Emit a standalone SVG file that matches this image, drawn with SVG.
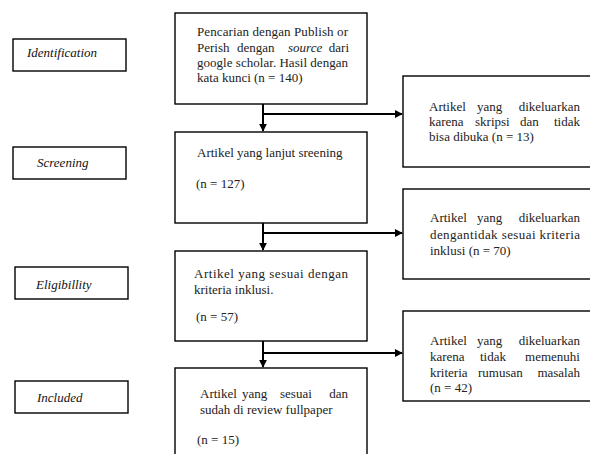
<svg xmlns="http://www.w3.org/2000/svg" width="590" height="454" viewBox="0 0 590 454">
<style>
rect{fill:#fff;stroke:#000;stroke-width:1.4}
.lab{font-family:"Liberation Serif",serif;font-style:italic;font-size:13px;fill:#111}
.t{font-family:"Liberation Serif",serif;font-size:13px;fill:#222}
.e{text-anchor:end}
.c{stroke:#000;stroke-width:2;fill:none}
</style>
<defs>
<marker id="ah" viewBox="0 0 10 10" refX="9" refY="5" markerWidth="4" markerHeight="4" orient="auto" markerUnits="strokeWidth">
<path d="M0,0 L10,5 L0,10 z" fill="#000"/>
</marker>
</defs>
<rect width="590" height="454" style="fill:#fff;stroke:none"/>
<g id="lab-identification"><rect x="13" y="39" width="113" height="32"/><text class="lab" x="27" y="57">Identification</text></g>
<g id="lab-screening"><rect x="13" y="147" width="113" height="32"/><text class="lab" x="37" y="167">Screening</text></g>
<g id="lab-eligibility"><rect x="15" y="267" width="113" height="32"/><text class="lab" x="36" y="289">Eligibillity</text></g>
<g id="lab-included"><rect x="15" y="381" width="113" height="32"/><text class="lab" x="37" y="402">Included</text></g>

<g id="box1"><rect x="175" y="13" width="192" height="91"/>
<text class="t" x="197" y="36" textLength="151" lengthAdjust="spacing">Pencarian dengan Publish or</text>
<text class="t" y="52"><tspan x="197">Perish</tspan><tspan x="237">dengan</tspan><tspan x="288" font-style="italic">source</tspan></text>
<text class="t e" x="349" y="52">dari</text>
<text class="t" x="197" y="67" textLength="151" lengthAdjust="spacing">google scholar. Hasil dengan</text>
<text class="t" x="197" y="82">kata kunci (n = 140)</text>
</g>
<g id="box2"><rect x="175" y="132" width="192" height="91"/>
<text class="t" x="197" y="157">Artikel yang lanjut sreening</text>
<text class="t" x="196" y="188">(n = 127)</text>
</g>
<g id="box3"><rect x="175" y="251" width="192" height="90"/>
<text class="t" x="194" y="278" textLength="154" lengthAdjust="spacing">Artikel yang sesuai dengan</text>
<text class="t" x="194" y="294">kriteria inklusi.</text>
<text class="t" x="196" y="321">(n = 57)</text>
</g>
<g id="box4"><rect x="175" y="368" width="192" height="95"/>
<text class="t" y="398"><tspan x="200">Artikel</tspan><tspan x="242">yang</tspan><tspan x="280">sesuai</tspan></text>
<text class="t e" x="348" y="398">dan</text>
<text class="t" x="200" y="414">sudah di review fullpaper</text>
<text class="t" x="197" y="444">(n = 15)</text>
</g>

<g id="exc1"><rect x="403" y="76" width="200" height="91"/>
<text class="t" y="111"><tspan x="429">Artikel</tspan><tspan x="477">yang</tspan></text>
<text class="t e" x="580" y="111">dikeluarkan</text>
<text class="t" y="126"><tspan x="429">karena</tspan><tspan x="475">skripsi</tspan><tspan x="520">dan</tspan></text>
<text class="t e" x="580" y="126">tidak</text>
<text class="t" x="429" y="141">bisa dibuka (n = 13)</text>
</g>
<g id="exc2"><rect x="403" y="189" width="200" height="90"/>
<text class="t" y="222"><tspan x="430">Artikel</tspan><tspan x="477">yang</tspan></text>
<text class="t e" x="580" y="222">dikeluarkan</text>
<text class="t" x="430" y="239" textLength="150" lengthAdjust="spacing">dengantidak sesuai kriteria</text>
<text class="t" x="430" y="255">inklusi (n = 70)</text>
</g>
<g id="exc3"><rect x="403" y="311" width="200" height="90"/>
<text class="t" y="345"><tspan x="430">Artikel</tspan><tspan x="477">yang</tspan></text>
<text class="t e" x="580" y="345">dikeluarkan</text>
<text class="t" y="361"><tspan x="430">karena</tspan><tspan x="480">tidak</tspan></text>
<text class="t e" x="580" y="361">memenuhi</text>
<text class="t" y="377"><tspan x="430">kriteria</tspan><tspan x="478">rumusan</tspan></text>
<text class="t e" x="580" y="377">masalah</text>
<text class="t" x="430" y="392">(n = 42)</text>
</g>

<g id="connectors">
<line class="c" x1="263" y1="104" x2="263" y2="131" marker-end="url(#ah)"/>
<line class="c" x1="263" y1="114" x2="402" y2="114" marker-end="url(#ah)"/>
<line class="c" x1="263" y1="223" x2="263" y2="250" marker-end="url(#ah)"/>
<line class="c" x1="263" y1="233" x2="402" y2="233" marker-end="url(#ah)"/>
<line class="c" x1="263" y1="341" x2="263" y2="367" marker-end="url(#ah)"/>
<line class="c" x1="263" y1="353" x2="402" y2="353" marker-end="url(#ah)"/>
</g>
</svg>
